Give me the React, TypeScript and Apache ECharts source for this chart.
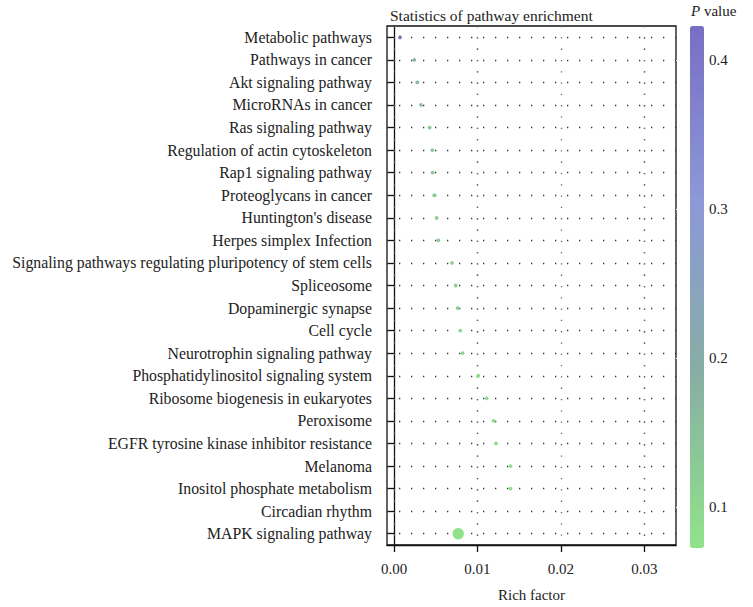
import React, { useEffect, useRef } from "react";
import * as echarts from "echarts";

const categories = [
  "Metabolic pathways",
  "Pathways in cancer",
  "Akt signaling pathway",
  "MicroRNAs in cancer",
  "Ras signaling pathway",
  "Regulation of actin cytoskeleton",
  "Rap1 signaling pathway",
  "Proteoglycans in cancer",
  "Huntington's disease",
  "Herpes simplex Infection",
  "Signaling pathways regulating pluripotency of stem cells",
  "Spliceosome",
  "Dopaminergic synapse",
  "Cell cycle",
  "Neurotrophin signaling pathway",
  "Phosphatidylinositol signaling system",
  "Ribosome biogenesis in eukaryotes",
  "Peroxisome",
  "EGFR tyrosine kinase inhibitor resistance",
  "Melanoma",
  "Inositol phosphate metabolism",
  "Circadian rhythm",
  "MAPK signaling pathway",
];

const richFactor: (number | null)[] = [
  0.00072, 0.00243, 0.0028, 0.00323, 0.00427, 0.00459, 0.00463, 0.00483,
  0.00511, 0.00531, 0.00695, 0.00739, 0.00763, 0.00794, 0.00822, 0.0101,
  0.0111, 0.01194, 0.01222, 0.01397, 0.01397, null, 0.0077,
];

const pValues = [
  0.42, 0.17, 0.16, 0.15, 0.13, 0.13, 0.13, 0.12, 0.12, 0.12, 0.11, 0.11,
  0.11, 0.1, 0.1, 0.09, 0.09, 0.09, 0.09, 0.08, 0.08, 0.08, 0.075,
];

const geneCounts = [1, 1, 1, 1, 1, 1, 1, 1, 1, 1, 1, 1, 1, 1, 1, 1, 1, 1, 1, 1, 1, 1, 3];

const xTicks = [0, 0.01, 0.02, 0.03];
const xGridValues = [0, 0.01, 0.015, 0.02, 0.025, 0.03];
const pTicks = [0.1, 0.2, 0.3, 0.4];
const pRange = [0.0725, 0.423];
const xRange = [-0.00084, 0.0338];

const FONT = "Liberation Serif";

export default function App() {
  const ref = useRef<HTMLDivElement>(null);
  useEffect(() => {
    if (!ref.current) return;
    const chart = echarts.init(ref.current, null, { renderer: "svg" });
    const points = categories
      .map((c, i) => [richFactor[i], c, pValues[i], geneCounts[i]])
      .filter((d) => d[0] !== null);
    const option: any = {
      animation: false,
      backgroundColor: "#ffffff",
      textStyle: { fontFamily: FONT },
      title: {
        text: "Statistics of pathway enrichment",
        left: 385,
        top: 2,
        textStyle: { fontFamily: FONT, fontSize: 15.5, fontWeight: "normal", color: "#222" },
      },
      grid: [
        {
          left: 387,
          right: 77,
          top: 26,
          bottom: 60,
          show: true,
          borderColor: "#111",
          borderWidth: 1.3,
          backgroundColor: "transparent",
        },
        { left: 690, top: 26, width: 14, height: 522, show: false },
      ],
      xAxis: [
        {
          type: "value",
          gridIndex: 0,
          min: xRange[0],
          max: xRange[1],
          name: "Rich factor",
          nameLocation: "middle",
          nameGap: 42,
          nameTextStyle: { fontFamily: FONT, fontSize: 15, color: "#222" },
          axisLine: { show: true, onZero: false, lineStyle: { color: "#111", width: 1.3 } },
          axisTick: { show: true, length: 7, customValues: xTicks, lineStyle: { color: "#111", width: 1.3 } },
          axisLabel: {
            customValues: xTicks,
            formatter: (v: number) => v.toFixed(2),
            fontFamily: FONT,
            fontSize: 15,
            color: "#222",
            margin: 16,
          },
          splitLine: { show: false },
        },
        { type: "value", gridIndex: 1, show: false, min: 0, max: 1 },
      ],
      yAxis: [
        {
          type: "category",
          gridIndex: 0,
          data: categories,
          inverse: true,
          boundaryGap: true,
          axisLine: { show: true, lineStyle: { color: "#111", width: 1.3 } },
          axisTick: { show: true, alignWithLabel: true, length: 6, lineStyle: { color: "#111", width: 1.3 } },
          axisLabel: { fontFamily: FONT, fontSize: 15.8, color: "#222", margin: 15, interval: 0 },
          splitLine: { show: false },
        },
        {
          type: "value",
          gridIndex: 1,
          position: "right",
          min: pRange[0],
          max: pRange[1],
          name: "{i|P} value",
          nameLocation: "end",
          nameGap: 8,
          nameTextStyle: {
            fontFamily: FONT,
            fontSize: 15,
            color: "#222",
            align: "left",
            padding: [0, 0, 0, 1],
            rich: { i: { fontStyle: "italic", fontFamily: FONT, fontSize: 15, color: "#222" } },
          },
          axisLine: { show: false },
          axisTick: {
            show: true,
            inside: true,
            length: 14,
            customValues: pTicks,
            lineStyle: { color: "#ffffff", width: 1, type: [5, 4] },
          },
          axisLabel: {
            customValues: pTicks,
            formatter: (v: number) => v.toFixed(1),
            fontFamily: FONT,
            fontSize: 15,
            color: "#222",
            margin: 5,
          },
          splitLine: { show: false },
        },
      ],
      visualMap: {
        type: "continuous",
        seriesIndex: 1,
        dimension: 2,
        min: pRange[0],
        max: pRange[1],
        left: 690,
        top: 26,
        padding: 0,
        itemWidth: 14,
        itemHeight: 522,
        calculable: false,
        text: null,
        showLabel: false,
        inRange: { color: ["#90E38A", "#87AEA4", "#8C98D8", "#786EC3"] },
        z: 1,
      },
      series: [
        {
          type: "line",
          xAxisIndex: 0,
          yAxisIndex: 0,
          data: [],
          silent: true,
          z: 1,
          markLine: {
            silent: true,
            z: 1,
            symbol: "none",
            label: { show: false },
            animation: false,
            data: [
              ...categories.map((c) => ({
                yAxis: c,
                lineStyle: { color: "#333", width: 1.3, type: [1.3, 10.7] },
              })),
              ...xGridValues.map((v) => ({
                xAxis: v,
                lineStyle: { color: "#666", width: 1.3, type: [1.3, 10] },
              })),
            ],
          },
        },
        {
          type: "scatter",
          xAxisIndex: 0,
          yAxisIndex: 0,
          z: 10,
          data: points,
          encode: { x: 0, y: 1 },
          symbolSize: (val: any[]) => val[3] * 3.8,
          itemStyle: { opacity: 1 },
        },
      ],
    };
    chart.setOption(option);
    return () => chart.dispose();
  }, []);
  return <div ref={ref} style={{ width: 753, height: 607, position: "absolute", left: 0, top: 0 }} />;
}
